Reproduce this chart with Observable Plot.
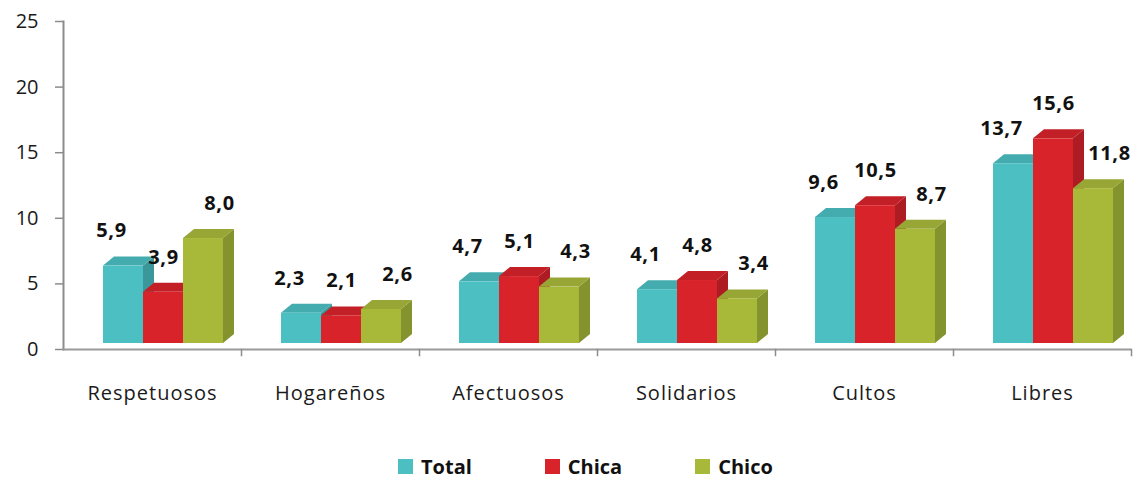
<!DOCTYPE html>
<html>
<head>
<meta charset="utf-8">
<script src="https://cdn.jsdelivr.net/npm/d3@7"></script>
<script src="https://cdn.jsdelivr.net/npm/@observablehq/plot@0.6"></script>
<style>
  html, body { margin: 0; padding: 0; background: #ffffff; }
  #wrap { width: 1133px; height: 479px; position: relative; overflow: hidden; }
  .chart g[aria-label="fx-axis tick label"] text { letter-spacing: 1px; }
  .chart g.vlabel text { letter-spacing: 0.6px; }
  #legend { position: absolute; left: 398px; top: 450px; }
  #legend .lg-swatch { margin-right: 73px !important; }
  #legend .lg-swatch > svg { margin-right: 8px !important; }
</style>
</head>
<body>
<div id="wrap"></div>
<script>
// ---- data ----
const categories = ["Respetuosos", "Hogareños", "Afectuosos", "Solidarios", "Cultos", "Libres"];
const seriesNames = ["Total", "Chica", "Chico"];
const totalValues = [5.9, 2.3, 4.7, 4.1, 9.6, 13.7];
const chicaValues = [3.9, 2.1, 5.1, 4.8, 10.5, 15.6];
const chicoValues = [8.0, 2.6, 4.3, 3.4, 8.7, 11.8];
const yTicks = [0, 5, 10, 15, 20, 25];
const seriesColors = ["#4cbfc2", "#d9232b", "#a8b93a"];

const seriesValues = [totalValues, chicaValues, chicoValues];
const data = categories.flatMap((cat, i) =>
  seriesNames.map((s, j) => ({cat, series: s, value: seriesValues[j][i]}))
);
const fmt = d => d.value.toFixed(1).replace(".", ",");
const labelShift = {Total: -12, Chica: 0, Chico: 16};

const font = "'Open Sans', 'DejaVu Sans', sans-serif";

const chart = Plot.plot({
  width: 1133,
  height: 430,
  marginLeft: 63,
  marginRight: 2,
  marginTop: 21,
  marginBottom: 81,
  className: "chart",
  style: {fontFamily: font, color: "#1a1a1a", background: "#ffffff"},
  fx: {domain: categories, padding: 0, label: null},
  x: {domain: seriesNames, axis: null, paddingInner: 0, paddingOuter: 0.725, align: 0.69},
  y: {domain: [0, 25], label: null},
  color: {domain: seriesNames, range: seriesColors},
  marks: [
    Plot.axisY({ticks: yTicks, tickSize: 8, tickPadding: 17, fontSize: 20, stroke: "#8c8c8c", strokeWidth: 1.5, label: null}),
    Plot.axisFx({anchor: "bottom", tickSize: 0, tickPadding: 36, fontSize: 20, label: null}),
    Plot.frame({anchor: "left", facetAnchor: "left", stroke: "#8c8c8c", strokeWidth: 2}),
    Plot.ruleY([0], {stroke: "#9a9a9a", strokeWidth: 2}),
    Plot.frame({anchor: "right", stroke: "#8c8c8c", strokeWidth: 1.5, insetTop: 328, insetBottom: -6}),
    Plot.barY(data, {fx: "cat", x: "series", y: "value", fill: "series", dy: -6}),
    ...seriesNames.map(s => Plot.text(data.filter(d => d.series === s), {
      fx: "cat", x: "series", y: "value", text: fmt,
      dx: labelShift[s], dy: -41, lineAnchor: "middle",
      fontWeight: "bold", fontSize: 20, fill: "#111111", className: "vlabel"
    }))
  ]
});

// 3D depth faces derived from the rendered bars
const DX = 11, DY = 9;
const allRects = Array.from(chart.querySelectorAll('g[aria-label="bar"] rect'));
for (const r of allRects) {
  const parent = r.parentNode;
  const x = +r.getAttribute("x"), y = +r.getAttribute("y");
  const w = +r.getAttribute("width"), h = +r.getAttribute("height");
  const c = d3.color(r.getAttribute("fill") || "#999");
  const side = document.createElementNS("http://www.w3.org/2000/svg", "polygon");
  side.setAttribute("points", `${x + w},${y} ${x + w + DX},${y - DY} ${x + w + DX},${y + h - DY} ${x + w},${y + h}`);
  side.setAttribute("fill", c.darker(0.65).formatHex());
  const top = document.createElementNS("http://www.w3.org/2000/svg", "polygon");
  top.setAttribute("points", `${x},${y} ${x + DX},${y - DY} ${x + w + DX},${y - DY} ${x + w},${y}`);
  top.setAttribute("fill", c.darker(0.3).formatHex());
  parent.appendChild(side);
  parent.appendChild(top);
  parent.appendChild(r);
}

const wrap = document.getElementById("wrap");
wrap.appendChild(chart);

const legend = Plot.legend({
  color: {type: "ordinal", domain: seriesNames, range: seriesColors},
  swatchSize: 15,
  className: "lg",
  style: {fontFamily: font, fontSize: "20px", fontWeight: "bold", color: "#111111"}
});
const lw = document.createElement("div");
lw.id = "legend";
lw.appendChild(legend);
wrap.appendChild(lw);
</script>
</body>
</html>
